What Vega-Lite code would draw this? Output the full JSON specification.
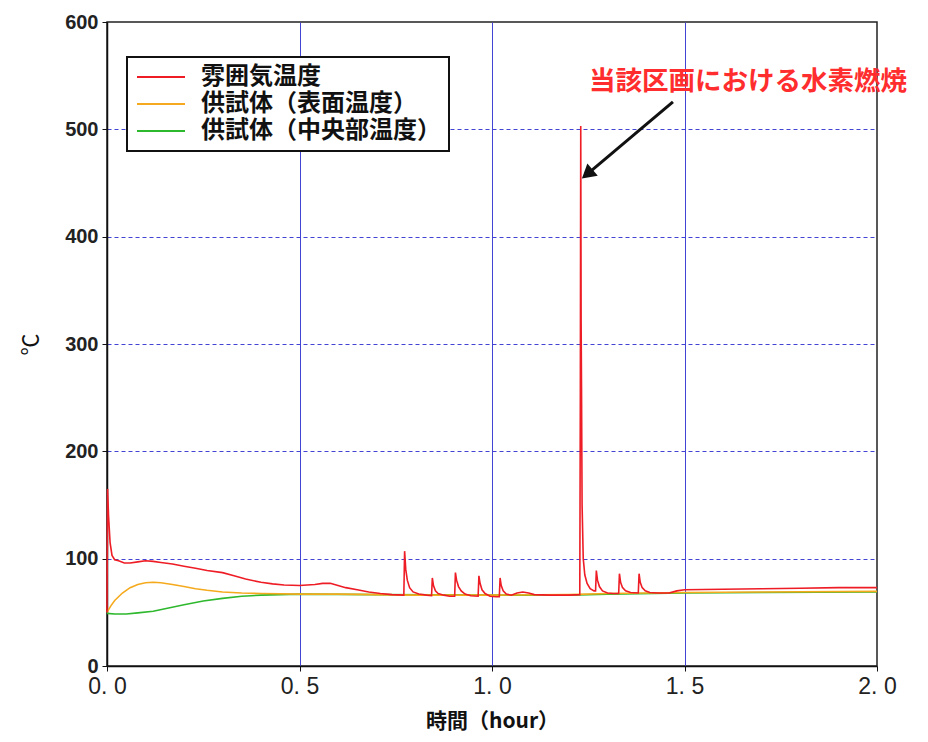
{
  "$schema": "https://vega.github.io/schema/vega-lite/v6.json",
  "width": 770,
  "height": 644,
  "autosize": {"type": "none"},
  "padding": {"left": 107, "top": 22, "right": 51, "bottom": 76},
  "background": "white",
  "config": {
    "view": {"stroke": "#222222", "strokeWidth": 1.5},
    "font": "Liberation Sans"
  },
  "datasets": {
    "temps": [
      {"s": "供試体（中央部温度）", "t": 0.0, "v": 49},
      {"s": "供試体（中央部温度）", "t": 0.02, "v": 48.5},
      {"s": "供試体（中央部温度）", "t": 0.05, "v": 48.5},
      {"s": "供試体（中央部温度）", "t": 0.08, "v": 49.5},
      {"s": "供試体（中央部温度）", "t": 0.12, "v": 51},
      {"s": "供試体（中央部温度）", "t": 0.16, "v": 54},
      {"s": "供試体（中央部温度）", "t": 0.2, "v": 57},
      {"s": "供試体（中央部温度）", "t": 0.25, "v": 60.5},
      {"s": "供試体（中央部温度）", "t": 0.3, "v": 63},
      {"s": "供試体（中央部温度）", "t": 0.35, "v": 65},
      {"s": "供試体（中央部温度）", "t": 0.4, "v": 66},
      {"s": "供試体（中央部温度）", "t": 0.45, "v": 66.5},
      {"s": "供試体（中央部温度）", "t": 0.5, "v": 67},
      {"s": "供試体（中央部温度）", "t": 0.7, "v": 66.5},
      {"s": "供試体（中央部温度）", "t": 1.0, "v": 66},
      {"s": "供試体（中央部温度）", "t": 1.2, "v": 66},
      {"s": "供試体（中央部温度）", "t": 1.3, "v": 67},
      {"s": "供試体（中央部温度）", "t": 1.5, "v": 68},
      {"s": "供試体（中央部温度）", "t": 1.7, "v": 68.5},
      {"s": "供試体（中央部温度）", "t": 2.0, "v": 69},
      {"s": "供試体（表面温度）", "t": 0.0, "v": 50},
      {"s": "供試体（表面温度）", "t": 0.01, "v": 56},
      {"s": "供試体（表面温度）", "t": 0.02, "v": 61},
      {"s": "供試体（表面温度）", "t": 0.04, "v": 68},
      {"s": "供試体（表面温度）", "t": 0.06, "v": 73},
      {"s": "供試体（表面温度）", "t": 0.08, "v": 76},
      {"s": "供試体（表面温度）", "t": 0.1, "v": 77.5},
      {"s": "供試体（表面温度）", "t": 0.12, "v": 78},
      {"s": "供試体（表面温度）", "t": 0.14, "v": 77.5},
      {"s": "供試体（表面温度）", "t": 0.17, "v": 76},
      {"s": "供試体（表面温度）", "t": 0.2, "v": 74},
      {"s": "供試体（表面温度）", "t": 0.23, "v": 72},
      {"s": "供試体（表面温度）", "t": 0.26, "v": 70.5},
      {"s": "供試体（表面温度）", "t": 0.3, "v": 69},
      {"s": "供試体（表面温度）", "t": 0.35, "v": 68},
      {"s": "供試体（表面温度）", "t": 0.4, "v": 67.5},
      {"s": "供試体（表面温度）", "t": 0.5, "v": 67},
      {"s": "供試体（表面温度）", "t": 0.6, "v": 67},
      {"s": "供試体（表面温度）", "t": 0.7, "v": 66.5},
      {"s": "供試体（表面温度）", "t": 0.8, "v": 66},
      {"s": "供試体（表面温度）", "t": 1.0, "v": 66},
      {"s": "供試体（表面温度）", "t": 1.2, "v": 66.5},
      {"s": "供試体（表面温度）", "t": 1.3, "v": 67.5},
      {"s": "供試体（表面温度）", "t": 1.5, "v": 68.5},
      {"s": "供試体（表面温度）", "t": 1.7, "v": 69},
      {"s": "供試体（表面温度）", "t": 2.0, "v": 69.5},
      {"s": "雰囲気温度", "t": 0.0, "v": 50},
      {"s": "雰囲気温度", "t": 0.0015, "v": 165},
      {"s": "雰囲気温度", "t": 0.004, "v": 140},
      {"s": "雰囲気温度", "t": 0.008, "v": 115},
      {"s": "雰囲気温度", "t": 0.013, "v": 103},
      {"s": "雰囲気温度", "t": 0.02, "v": 99},
      {"s": "雰囲気温度", "t": 0.03, "v": 98},
      {"s": "雰囲気温度", "t": 0.045, "v": 96},
      {"s": "雰囲気温度", "t": 0.06, "v": 96},
      {"s": "雰囲気温度", "t": 0.08, "v": 97},
      {"s": "雰囲気温度", "t": 0.1, "v": 98},
      {"s": "雰囲気温度", "t": 0.12, "v": 97.5},
      {"s": "雰囲気温度", "t": 0.14, "v": 96.5},
      {"s": "雰囲気温度", "t": 0.17, "v": 95},
      {"s": "雰囲気温度", "t": 0.2, "v": 93},
      {"s": "雰囲気温度", "t": 0.23, "v": 91},
      {"s": "雰囲気温度", "t": 0.26, "v": 89},
      {"s": "雰囲気温度", "t": 0.3, "v": 87},
      {"s": "雰囲気温度", "t": 0.33, "v": 84},
      {"s": "雰囲気温度", "t": 0.36, "v": 81},
      {"s": "雰囲気温度", "t": 0.4, "v": 78},
      {"s": "雰囲気温度", "t": 0.43, "v": 76.5},
      {"s": "雰囲気温度", "t": 0.46, "v": 75.5},
      {"s": "雰囲気温度", "t": 0.5, "v": 75},
      {"s": "雰囲気温度", "t": 0.52, "v": 75.5},
      {"s": "雰囲気温度", "t": 0.54, "v": 76},
      {"s": "雰囲気温度", "t": 0.56, "v": 77},
      {"s": "雰囲気温度", "t": 0.58, "v": 77},
      {"s": "雰囲気温度", "t": 0.6, "v": 75},
      {"s": "雰囲気温度", "t": 0.62, "v": 73},
      {"s": "雰囲気温度", "t": 0.65, "v": 71},
      {"s": "雰囲気温度", "t": 0.68, "v": 69},
      {"s": "雰囲気温度", "t": 0.71, "v": 67.5},
      {"s": "雰囲気温度", "t": 0.74, "v": 66.5},
      {"s": "雰囲気温度", "t": 0.771, "v": 66},
      {"s": "雰囲気温度", "t": 0.773, "v": 107},
      {"s": "雰囲気温度", "t": 0.776, "v": 90},
      {"s": "雰囲気温度", "t": 0.78, "v": 80},
      {"s": "雰囲気温度", "t": 0.786, "v": 73},
      {"s": "雰囲気温度", "t": 0.795, "v": 69},
      {"s": "雰囲気温度", "t": 0.81, "v": 67},
      {"s": "雰囲気温度", "t": 0.83, "v": 66},
      {"s": "雰囲気温度", "t": 0.843, "v": 65.5},
      {"s": "雰囲気温度", "t": 0.845, "v": 82},
      {"s": "雰囲気温度", "t": 0.848, "v": 75},
      {"s": "雰囲気温度", "t": 0.853, "v": 70},
      {"s": "雰囲気温度", "t": 0.86, "v": 67.5},
      {"s": "雰囲気温度", "t": 0.875, "v": 66},
      {"s": "雰囲気温度", "t": 0.89, "v": 65},
      {"s": "雰囲気温度", "t": 0.903, "v": 65},
      {"s": "雰囲気温度", "t": 0.905, "v": 87},
      {"s": "雰囲気温度", "t": 0.908, "v": 80},
      {"s": "雰囲気温度", "t": 0.913, "v": 74},
      {"s": "雰囲気温度", "t": 0.92, "v": 70},
      {"s": "雰囲気温度", "t": 0.93, "v": 67},
      {"s": "雰囲気温度", "t": 0.945, "v": 65.5},
      {"s": "雰囲気温度", "t": 0.964, "v": 65},
      {"s": "雰囲気温度", "t": 0.966, "v": 84},
      {"s": "雰囲気温度", "t": 0.969, "v": 77},
      {"s": "雰囲気温度", "t": 0.974, "v": 71},
      {"s": "雰囲気温度", "t": 0.982, "v": 67.5},
      {"s": "雰囲気温度", "t": 0.995, "v": 65},
      {"s": "雰囲気温度", "t": 1.01, "v": 64.5},
      {"s": "雰囲気温度", "t": 1.019, "v": 64.5},
      {"s": "雰囲気温度", "t": 1.021, "v": 82},
      {"s": "雰囲気温度", "t": 1.024, "v": 75},
      {"s": "雰囲気温度", "t": 1.029, "v": 70},
      {"s": "雰囲気温度", "t": 1.037, "v": 67},
      {"s": "雰囲気温度", "t": 1.05, "v": 66},
      {"s": "雰囲気温度", "t": 1.065, "v": 68},
      {"s": "雰囲気温度", "t": 1.08, "v": 69},
      {"s": "雰囲気温度", "t": 1.095, "v": 68},
      {"s": "雰囲気温度", "t": 1.11, "v": 66.5},
      {"s": "雰囲気温度", "t": 1.15, "v": 66},
      {"s": "雰囲気温度", "t": 1.2, "v": 66},
      {"s": "雰囲気温度", "t": 1.228, "v": 66.5},
      {"s": "雰囲気温度", "t": 1.2295, "v": 260},
      {"s": "雰囲気温度", "t": 1.2305, "v": 503},
      {"s": "雰囲気温度", "t": 1.2315, "v": 320},
      {"s": "雰囲気温度", "t": 1.2325, "v": 260},
      {"s": "雰囲気温度", "t": 1.234, "v": 150},
      {"s": "雰囲気温度", "t": 1.237, "v": 100},
      {"s": "雰囲気温度", "t": 1.241, "v": 85},
      {"s": "雰囲気温度", "t": 1.247, "v": 77},
      {"s": "雰囲気温度", "t": 1.255, "v": 72},
      {"s": "雰囲気温度", "t": 1.265, "v": 70},
      {"s": "雰囲気温度", "t": 1.269, "v": 70},
      {"s": "雰囲気温度", "t": 1.271, "v": 89},
      {"s": "雰囲気温度", "t": 1.274, "v": 80},
      {"s": "雰囲気温度", "t": 1.279, "v": 74},
      {"s": "雰囲気温度", "t": 1.287, "v": 70},
      {"s": "雰囲気温度", "t": 1.3, "v": 68},
      {"s": "雰囲気温度", "t": 1.315, "v": 67.5},
      {"s": "雰囲気温度", "t": 1.329, "v": 67.5},
      {"s": "雰囲気温度", "t": 1.331, "v": 86},
      {"s": "雰囲気温度", "t": 1.334, "v": 78},
      {"s": "雰囲気温度", "t": 1.339, "v": 73},
      {"s": "雰囲気温度", "t": 1.347, "v": 70},
      {"s": "雰囲気温度", "t": 1.36, "v": 68.5},
      {"s": "雰囲気温度", "t": 1.38, "v": 68},
      {"s": "雰囲気温度", "t": 1.382, "v": 86},
      {"s": "雰囲気温度", "t": 1.385, "v": 78},
      {"s": "雰囲気温度", "t": 1.39, "v": 73},
      {"s": "雰囲気温度", "t": 1.398, "v": 70},
      {"s": "雰囲気温度", "t": 1.41, "v": 68.5},
      {"s": "雰囲気温度", "t": 1.43, "v": 68},
      {"s": "雰囲気温度", "t": 1.46, "v": 68},
      {"s": "雰囲気温度", "t": 1.48, "v": 70},
      {"s": "雰囲気温度", "t": 1.5, "v": 71},
      {"s": "雰囲気温度", "t": 1.6, "v": 71.5},
      {"s": "雰囲気温度", "t": 1.7, "v": 72},
      {"s": "雰囲気温度", "t": 1.8, "v": 72.5},
      {"s": "雰囲気温度", "t": 1.9, "v": 73},
      {"s": "雰囲気温度", "t": 2.0, "v": 73}
    ],
    "ann": [
      {"t": 1.665, "v": 544, "label": "当該区画における水素燃焼"}
    ],
    "arrow": [
      {"t": 1.47, "v": 525.6, "t2": 1.252, "v2": 459.7, "angle": 229.8}
    ]
  },
  "layer": [
    {
      "data": {"name": "temps"},
      "mark": {"type": "line", "strokeWidth": 1.6, "interpolate": "linear"},
      "encoding": {
        "x": {
          "field": "t", "type": "quantitative",
          "scale": {"domain": [0, 2], "nice": false, "zero": false},
          "axis": {
            "title": "時間（hour）",
            "titleFont": "Noto Sans CJK JP", "titleFontSize": 21, "titleFontWeight": "bold", "titleColor": "#111", "titlePadding": 12,
            "values": [0, 0.5, 1, 1.5, 2],
            "labelExpr": "replace(format(datum.value, '.1f'), '.', '. ')",
            "labelFont": "Liberation Sans", "labelFontSize": 23, "labelFontWeight": "normal", "labelColor": "#222", "labelPadding": 4,
            "labelFlush": false,
            "tickColor": "#111", "tickSize": 5, "domainColor": "#111", "domainWidth": 1.5,
            "grid": true, "gridDash": [],
            "gridColor": {"condition": {"test": "datum.value == 0 || datum.value == 2", "value": "transparent"}, "value": "#4444d4"},
            "gridWidth": 1, "gridOpacity": 1
          }
        },
        "y": {
          "field": "v", "type": "quantitative",
          "scale": {"domain": [0, 600], "nice": false},
          "axis": {
            "title": "℃",
            "titleFont": "Noto Sans CJK JP", "titleFontSize": 22, "titleFontWeight": "normal", "titleColor": "#111", "titlePadding": 22,
            "values": [0, 100, 200, 300, 400, 500, 600],
            "labelFont": "Liberation Sans", "labelFontSize": 20, "labelFontWeight": "bold", "labelColor": "#222", "labelPadding": 4,
            "labelFlush": false,
            "tickColor": "#111", "tickSize": 5, "domainColor": "#111", "domainWidth": 1.5,
            "grid": true, "gridDash": [4, 3],
            "gridColor": {"condition": {"test": "datum.value == 0 || datum.value == 600", "value": "transparent"}, "value": "#4444d4"},
            "gridWidth": 1.2, "gridOpacity": 1
          }
        },
        "color": {
          "field": "s", "type": "nominal",
          "scale": {
            "domain": ["雰囲気温度", "供試体（表面温度）", "供試体（中央部温度）"],
            "range": ["#ee1c25", "#f5aa1e", "#2db82d"]
          },
          "legend": {
            "title": null,
            "orient": "none", "legendX": 20, "legendY": 35,
            "strokeColor": "#111", "fillColor": "white", "padding": 8,
            "symbolType": "M-3,0H3", "symbolSize": 256, "symbolStrokeWidth": 1.8,
            "symbolOffset": 14, "labelOffset": 28,
            "labelFont": "Noto Sans CJK JP", "labelFontSize": 24, "labelFontWeight": "bold", "labelColor": "#111",
            "rowPadding": 3, "labelLimit": 400,
            "encode": {"legend": {"update": {"strokeWidth": {"value": 2}}}}
          }
        }
      }
    },
    {
      "data": {"name": "arrow"},
      "mark": {"type": "rule", "color": "#111", "strokeWidth": 3},
      "encoding": {
        "x": {"field": "t", "type": "quantitative"},
        "y": {"field": "v", "type": "quantitative"},
        "x2": {"field": "t2"},
        "y2": {"field": "v2"}
      }
    },
    {
      "data": {"name": "arrow"},
      "mark": {"type": "point", "shape": "triangle", "filled": true, "color": "#111", "size": 260, "opacity": 1},
      "encoding": {
        "x": {"field": "t2", "type": "quantitative"},
        "y": {"field": "v2", "type": "quantitative"},
        "angle": {"field": "angle", "type": "quantitative", "scale": null}
      }
    },
    {
      "data": {"name": "ann"},
      "mark": {"type": "text", "color": "#ff2d2d", "font": "Noto Sans CJK JP", "fontSize": 26.5, "fontWeight": "bold", "align": "center", "baseline": "middle"},
      "encoding": {
        "x": {"field": "t", "type": "quantitative"},
        "y": {"field": "v", "type": "quantitative"},
        "text": {"field": "label"}
      }
    }
  ]
}
